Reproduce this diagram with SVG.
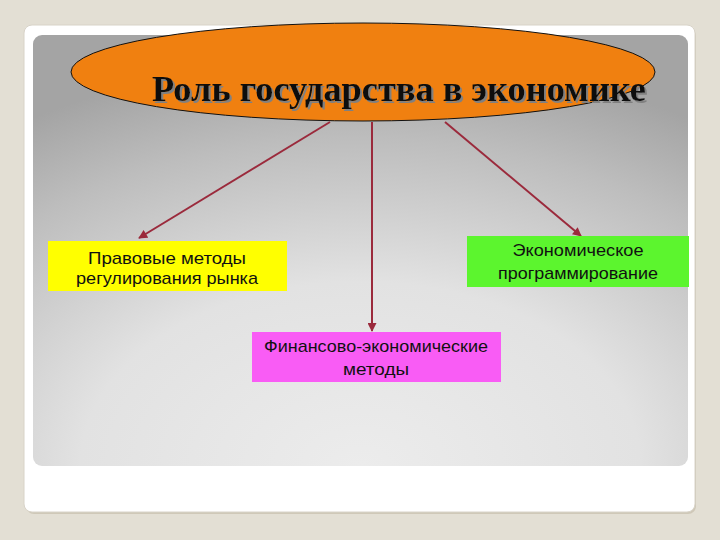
<svg xmlns="http://www.w3.org/2000/svg" width="720" height="540" viewBox="0 0 720 540">
<defs>
<radialGradient id="panel" cx="50%" cy="100%" r="95%" fx="50%" fy="100%">
<stop offset="0" stop-color="#ececec"/>
<stop offset="0.45" stop-color="#e2e2e2"/>
<stop offset="0.8" stop-color="#bdbdbd"/>
<stop offset="1" stop-color="#a4a4a4"/>
</radialGradient>
<filter id="shadow" x="-5%" y="-20%" width="110%" height="140%">
<feOffset in="SourceAlpha" dx="2" dy="2" result="off"/>
<feFlood flood-color="#808080"/>
<feComposite in2="off" operator="in" result="sh"/>
<feMerge><feMergeNode in="sh"/><feMergeNode in="SourceGraphic"/></feMerge>
</filter>
<marker id="ah" viewBox="0 0 10 10" refX="9" refY="5" markerWidth="10" markerHeight="9" orient="auto" markerUnits="userSpaceOnUse">
<path d="M0,0 L10,5 L0,10 z" fill="#9b2a3c"/>
</marker>
<style>
.conn{stroke:#9b2a3c;stroke-width:2;fill:none;marker-end:url(#ah)}
.lbl{font-family:"Liberation Sans",Arial,sans-serif;font-size:17px;fill:#111;text-anchor:middle}
.title{font-family:"Liberation Serif","Times New Roman",serif;font-weight:bold;font-size:36px;fill:#111}
</style>
</defs>
<rect x="0" y="0" width="720" height="540" fill="#e3dfd4"/>
<rect x="26" y="28" width="670" height="486" rx="8" fill="#cfc8b8"/>
<rect x="24" y="25" width="671" height="487" rx="8" fill="#ffffff" stroke="#d8d3c8" stroke-width="1"/>
<rect x="33" y="35" width="655" height="431" rx="9" fill="url(#panel)"/>
<g id="connectors">
<line class="conn" x1="330" y1="122" x2="139" y2="238"/>
<line class="conn" x1="372" y1="122" x2="372" y2="331"/>
<line class="conn" x1="445" y1="122" x2="581" y2="236"/>
</g>
<g id="title">
<ellipse cx="363" cy="72" rx="292" ry="49" fill="#f08010" stroke="#111" stroke-width="1"/>
<text class="title" x="152" y="101" textLength="494" lengthAdjust="spacingAndGlyphs" filter="url(#shadow)">Роль государства в экономике</text>
</g>
<g id="legal">
<rect x="48" y="241" width="239" height="50" fill="#ffff00"/>
<text class="lbl" x="167" y="264" textLength="158" lengthAdjust="spacingAndGlyphs">Правовые методы</text>
<text class="lbl" x="167" y="284" textLength="182" lengthAdjust="spacingAndGlyphs">регулирования рынка</text>
</g>
<g id="economic">
<rect x="467" y="236" width="222" height="51" fill="#5cf52e"/>
<text class="lbl" x="578" y="256" textLength="131" lengthAdjust="spacingAndGlyphs">Экономическое</text>
<text class="lbl" x="578" y="279" textLength="160" lengthAdjust="spacingAndGlyphs">программирование</text>
</g>
<g id="financial">
<rect x="252" y="332" width="249" height="50" fill="#f95cf5"/>
<text class="lbl" x="376" y="352" textLength="224" lengthAdjust="spacingAndGlyphs">Финансово-экономические</text>
<text class="lbl" x="376" y="375" textLength="66" lengthAdjust="spacingAndGlyphs">методы</text>
</g>
</svg>
